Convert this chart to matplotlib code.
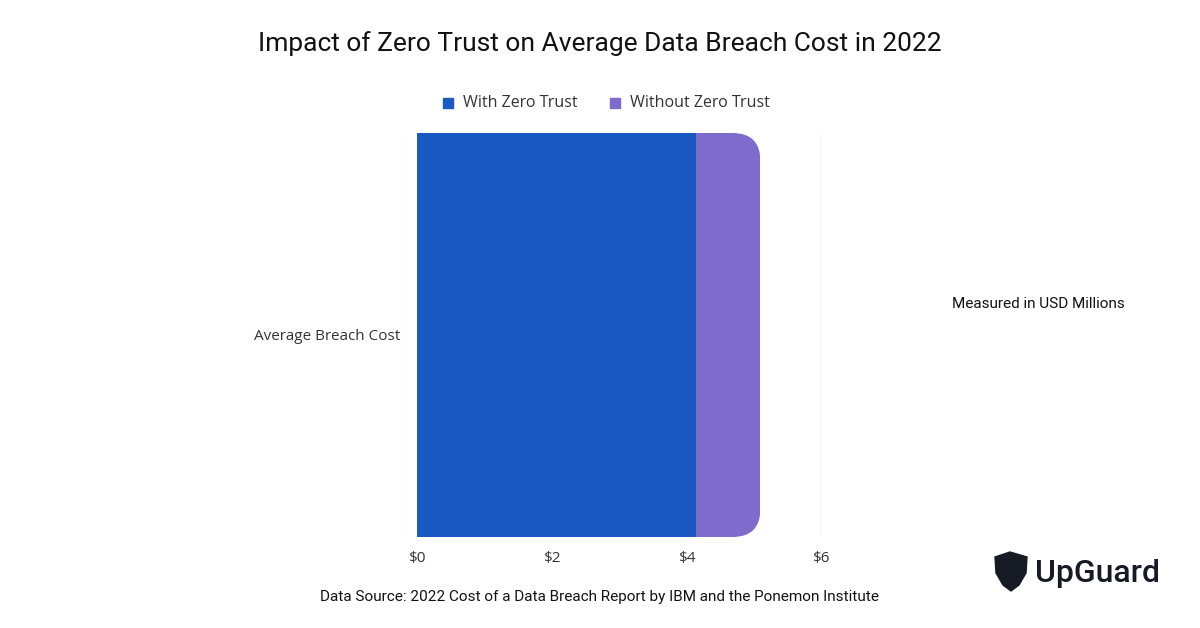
import matplotlib
matplotlib.use("Agg")
import matplotlib.pyplot as plt
from matplotlib.patches import FancyBboxPatch, Polygon
from matplotlib.transforms import IdentityTransform

categories = ["Average Breach Cost"]
with_zt = [4.15]
without_extra = [0.95]   # stacked on top of with_zt -> 5.10 total
xticks = [0, 2, 4, 6]
xticklabels = ["$0", "$2", "$4", "$6"]

BLUE, PURPLE = "#1a58c2", "#7f6bcc"

fig = plt.figure(figsize=(12, 6.28), dpi=100)
ax = fig.add_axes([417/1200, 91/628, 404/1200, 404/628])

ax.barh(categories, with_zt, height=1.0, color=BLUE, zorder=3)
pb = ax.barh(categories, without_extra, left=with_zt, height=1.0, color=PURPLE, zorder=2)

ax.set_xlim(0, 6)
ax.set_ylim(-0.5, 0.5)
ax.set_xticks(xticks)
ax.set_xticklabels(xticklabels, fontsize=11, color="#333", family="Open Sans")
ax.tick_params(axis="x", length=0, pad=10)
ax.tick_params(axis="y", length=0, pad=12, labelsize=11, labelcolor="#333")
for t in ax.get_yticklabels():
    t.set_family("Open Sans")
for sp in ax.spines.values():
    sp.set_visible(False)
ax.grid(axis="x", color="#cccccc", lw=1, zorder=0)
ax.set_axisbelow(True)

# rounded right end of the purple segment
fig.canvas.draw()
x0, y0 = ax.transData.transform((0, -0.5))
x1, y1 = ax.transData.transform((with_zt[0] + without_extra[0], 0.5))
clip = FancyBboxPatch((x0 - 60, y0), x1 - x0 + 60, y1 - y0,
                      boxstyle="round,pad=0,rounding_size=28", transform=IdentityTransform())
for r in pb:
    r.set_clip_path(clip)

fig.text(0.5, 0.93, "Impact of Zero Trust on Average Data Breach Cost in 2022",
         ha="center", va="center", fontsize=19, family="Roboto", color="#111")

# legend
fig.patches.append(matplotlib.patches.Rectangle((443/1200, 1-108/628), 10/1200, 10/628,
                   color=BLUE, transform=fig.transFigure))
fig.text(463/1200, 1-103/628, "With Zero Trust", fontsize=11.5, va="center", family="Open Sans", color="#333")
fig.patches.append(matplotlib.patches.Rectangle((610/1200, 1-108/628), 10/1200, 10/628,
                   color=PURPLE, transform=fig.transFigure))
fig.text(630/1200, 1-103/628, "Without Zero Trust", fontsize=11.5, va="center", family="Open Sans", color="#333")

fig.text(1038/1200, 1-304/628, "Measured in USD Millions", ha="center", va="center",
         fontsize=11, family="Roboto", color="#111")
fig.text(600/1200, 1-597/628, "Data Source: 2022 Cost of a Data Breach Report by IBM and the Ponemon Institute",
         ha="center", va="center", fontsize=11, family="Roboto", color="#111")

# logo
shield = [(995, 557), (1010, 552), (1027, 557), (1026, 573), (1019, 585), (1011, 591), (1003, 585), (996, 573)]
fig.patches.append(Polygon([(x/1200, 1-y/628) for x, y in shield], closed=True,
                           color="#161a24", transform=fig.transFigure))
fig.text(1035/1200, 1-573/628, "UpGuard", fontsize=23, va="center", family="Roboto",
         weight="medium", color="#161a24")

fig.savefig("out.png", dpi=100)
